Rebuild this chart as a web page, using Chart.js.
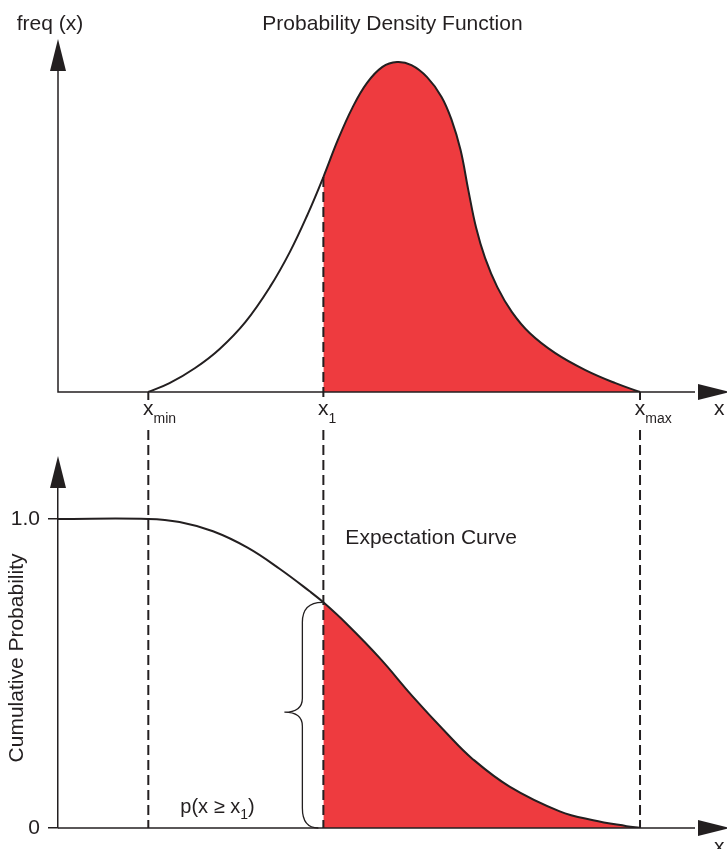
<!DOCTYPE html>
<html>
<head>
    <meta charset="UTF-8">
    <title>Probability Density Function</title>
    <script src="https://cdn.jsdelivr.net/npm/chart.js@4.4.0/dist/chart.umd.min.js"></script>
    <style>
        body { margin: 0; background: #fff; }
        #wrap { position: relative; width: 727px; height: 849px; overflow: hidden; }
        canvas { position: absolute; left: 0; }
    </style>
</head>
<body>
<div id="wrap">
    <canvas id="pdfChart" width="727" height="430" style="top:0px"></canvas>
    <canvas id="cdfChart" width="727" height="419" style="top:430px"></canvas>
</div>

<script>
    // marked x values: x_min, x_1, x_max (same units on both charts)
    const markerValues = [8.1, 23.8, 52.2];
    const markerSubs = ['min', '1', 'max'];

    // probability density curve (top)
    const pdfX = [8.1, 10.0, 12.3, 14.5, 16.8, 19.0, 20.8, 22.4, 23.8, 25.1, 26.4, 27.7, 29.1, 30.4, 31.7, 33.1, 34.4, 35.3, 36.1, 36.8, 37.5, 38.3, 39.4, 40.7, 42.3, 44.6, 47.3, 50.0, 52.2];
    const pdfY = [0, 0.025, 0.068, 0.122, 0.198, 0.297, 0.397, 0.504, 0.609, 0.714, 0.805, 0.875, 0.921, 0.935, 0.926, 0.892, 0.836, 0.771, 0.686, 0.572, 0.465, 0.380, 0.297, 0.227, 0.167, 0.110, 0.062, 0.025, 0];

    // expectation curve (bottom)
    const cdfX = [0, 8.1, 10.9, 13.9, 17.0, 19.9, 22.6, 23.8, 25.9, 28.9, 31.8, 34.9, 37.1, 40.5, 45.0, 48.0, 51.0, 52.2];
    const cdfY = [1.0, 1.0, 0.990, 0.960, 0.907, 0.838, 0.765, 0.730, 0.660, 0.548, 0.426, 0.305, 0.226, 0.134, 0.054, 0.025, 0.006, 0];

    const cdfTickValues = [0, 1.0];
    const cdfTickLabels = ['0', '1.0'];

    const INK = '#231f20';
    const RED = '#ee3b3f';
    const FONT = '"Liberation Sans", Arial, sans-serif';
    const ARROW_LEN = 32;
    const ARROW_HALF = 8;

    function toPoints(xs, ys) {
        return xs.map((v, i) => ({ x: v, y: ys[i] }));
    }

    // red only to the right of x_1
    function shadeRight(ctx) {
        return ctx.p0.parsed.x >= markerValues[1] - 1e-9 ? RED : 'rgba(0,0,0,0)';
    }

    function arrowUp(ctx, x, tipY) {
        ctx.beginPath();
        ctx.moveTo(x, tipY);
        ctx.lineTo(x - ARROW_HALF, tipY + ARROW_LEN);
        ctx.lineTo(x + ARROW_HALF, tipY + ARROW_LEN);
        ctx.closePath();
        ctx.fill();
    }

    function arrowRight(ctx, tipX, y) {
        ctx.beginPath();
        ctx.moveTo(tipX, y);
        ctx.lineTo(tipX - ARROW_LEN, y - ARROW_HALF);
        ctx.lineTo(tipX - ARROW_LEN, y + ARROW_HALF);
        ctx.closePath();
        ctx.fill();
    }

    function dashed(ctx, x, y0, y1) {
        ctx.save();
        ctx.setLineDash([10, 5]);
        ctx.lineWidth = 2;
        ctx.strokeStyle = INK;
        ctx.beginPath();
        ctx.moveTo(x, y0);
        ctx.lineTo(x, y1);
        ctx.stroke();
        ctx.restore();
    }

    // "x" centred at px with a small subscript after it
    function subLabel(ctx, px, baseline, sub) {
        ctx.font = '21px ' + FONT;
        const w = ctx.measureText('x').width;
        ctx.fillText('x', px - w / 2, baseline);
        ctx.font = '14px ' + FONT;
        ctx.fillText(sub, px + w / 2, baseline + 8);
    }

    const pdfDecor = {
        id: 'pdfDecor',
        afterDatasetsDraw(chart) {
            const { ctx, chartArea: a, scales: { x, y } } = chart;
            ctx.save();
            ctx.strokeStyle = INK;
            ctx.fillStyle = INK;
            ctx.lineWidth = 1.5;
            ctx.beginPath();
            ctx.moveTo(a.left, a.top + ARROW_LEN);
            ctx.lineTo(a.left, a.bottom);
            ctx.lineTo(a.right - ARROW_LEN, a.bottom);
            ctx.stroke();
            arrowUp(ctx, a.left, a.top);
            arrowRight(ctx, a.right + 3, a.bottom);

            // x_1 line up to the curve, short ticks at x_min / x_max
            const i1 = pdfX.indexOf(markerValues[1]);
            dashed(ctx, x.getPixelForValue(markerValues[1]), y.getPixelForValue(pdfY[i1]), a.bottom + 8);
            dashed(ctx, x.getPixelForValue(markerValues[0]), a.bottom, a.bottom + 8);
            dashed(ctx, x.getPixelForValue(markerValues[2]), a.bottom, a.bottom + 8);

            ctx.fillStyle = INK;
            ctx.textAlign = 'left';
            ctx.textBaseline = 'alphabetic';
            markerValues.forEach((v, i) => subLabel(ctx, x.getPixelForValue(v), a.bottom + 23, markerSubs[i]));
            ctx.font = '21px ' + FONT;
            ctx.fillText('x', 714, a.bottom + 23);

            ctx.textAlign = 'center';
            ctx.fillText('Probability Density Function', (a.left + a.right) / 2, 30);
            ctx.fillText('freq (x)', a.left - 8, 30);
            ctx.restore();
        }
    };

    const cdfDecor = {
        id: 'cdfDecor',
        afterDatasetsDraw(chart) {
            const { ctx, chartArea: a, scales: { x, y } } = chart;
            ctx.save();
            ctx.strokeStyle = INK;
            ctx.fillStyle = INK;
            ctx.lineWidth = 1.5;
            ctx.beginPath();
            ctx.moveTo(a.left, a.bottom);
            ctx.lineTo(a.right - ARROW_LEN, a.bottom);
            ctx.stroke();
            arrowUp(ctx, a.left, a.top - ARROW_LEN);
            arrowRight(ctx, a.right + 3, a.bottom);

            markerValues.forEach(v => dashed(ctx, x.getPixelForValue(v), 0, a.bottom));

            // brace spanning p(x >= x_1)
            const i1 = cdfX.indexOf(markerValues[1]);
            const px1 = x.getPixelForValue(markerValues[1]);
            const top = y.getPixelForValue(cdfY[i1]);
            const bottom = y.getPixelForValue(0);
            const mid = (top + bottom) / 2 - 3;
            const bx = px1 - 21;
            const tip = px1 - 39;
            ctx.lineWidth = 1.3;
            ctx.beginPath();
            ctx.moveTo(px1 - 1, top);
            ctx.quadraticCurveTo(bx, top, bx, top + 20);
            ctx.lineTo(bx, mid - 14);
            ctx.quadraticCurveTo(bx, mid, tip, mid);
            ctx.quadraticCurveTo(bx, mid, bx, mid + 14);
            ctx.lineTo(bx, bottom - 20);
            ctx.quadraticCurveTo(bx, bottom, px1 - 5, bottom);
            ctx.stroke();

            ctx.textAlign = 'left';
            ctx.textBaseline = 'alphabetic';
            ctx.font = '21px ' + FONT;
            ctx.fillText('Expectation Curve', px1 + 22, y.getPixelForValue(1.0) + 25);

            // p(x ≥ x1)
            let lx = x.getPixelForValue(markerValues[0]) + 32;
            const ly = a.bottom - 15;
            ctx.font = '20px ' + FONT;
            ctx.fillText('p(x \u2265 x', lx, ly);
            lx += ctx.measureText('p(x \u2265 x').width;
            ctx.font = '14px ' + FONT;
            ctx.fillText('1', lx, ly + 6);
            lx += ctx.measureText('1').width;
            ctx.font = '20px ' + FONT;
            ctx.fillText(')', lx, ly);

            ctx.font = '21px ' + FONT;
            ctx.fillText('x', 714, a.bottom + 25);
            ctx.restore();
        }
    };

    function curveDataset(points) {
        return {
            data: points,
            borderColor: INK,
            borderWidth: 2,
            backgroundColor: RED,
            pointRadius: 0,
            tension: 0.4,
            fill: 'origin',
            segment: { backgroundColor: shadeRight }
        };
    }

    const xScale = { type: 'linear', min: 0, max: 60, display: false };

    new Chart(document.getElementById('pdfChart'), {
        type: 'line',
        data: { datasets: [curveDataset(toPoints(pdfX, pdfY))] },
        options: {
            responsive: false,
            animation: false,
            layout: { padding: { left: 58, right: 0, top: 39, bottom: 38 } },
            plugins: { legend: { display: false }, tooltip: { enabled: false } },
            scales: {
                x: xScale,
                y: { type: 'linear', min: 0, max: 1.0, display: false }
            }
        },
        plugins: [pdfDecor]
    });

    new Chart(document.getElementById('cdfChart'), {
        type: 'line',
        data: { datasets: [curveDataset(toPoints(cdfX, cdfY))] },
        options: {
            responsive: false,
            animation: false,
            layout: { padding: { left: 0, right: 0, top: 58, bottom: 21 } },
            plugins: { legend: { display: false }, tooltip: { enabled: false } },
            scales: {
                x: xScale,
                y: {
                    type: 'linear',
                    min: 0,
                    max: 1.1,
                    afterFit: s => { s.width = 58; },
                    afterBuildTicks: s => { s.ticks = cdfTickValues.map(v => ({ value: v })); },
                    ticks: {
                        padding: 8,
                        color: INK,
                        font: { size: 21, family: FONT },
                        callback: (v, i) => cdfTickLabels[i]
                    },
                    grid: { drawOnChartArea: false, tickLength: 10, color: INK, lineWidth: 1.5 },
                    border: { display: true, color: INK, width: 1.5 },
                    title: {
                        display: true,
                        text: 'Cumulative Probability',
                        color: INK,
                        font: { size: 21, family: FONT },
                        padding: { top: 5, bottom: 0 }
                    }
                }
            }
        },
        plugins: [cdfDecor]
    });
</script>
</body>
</html>
